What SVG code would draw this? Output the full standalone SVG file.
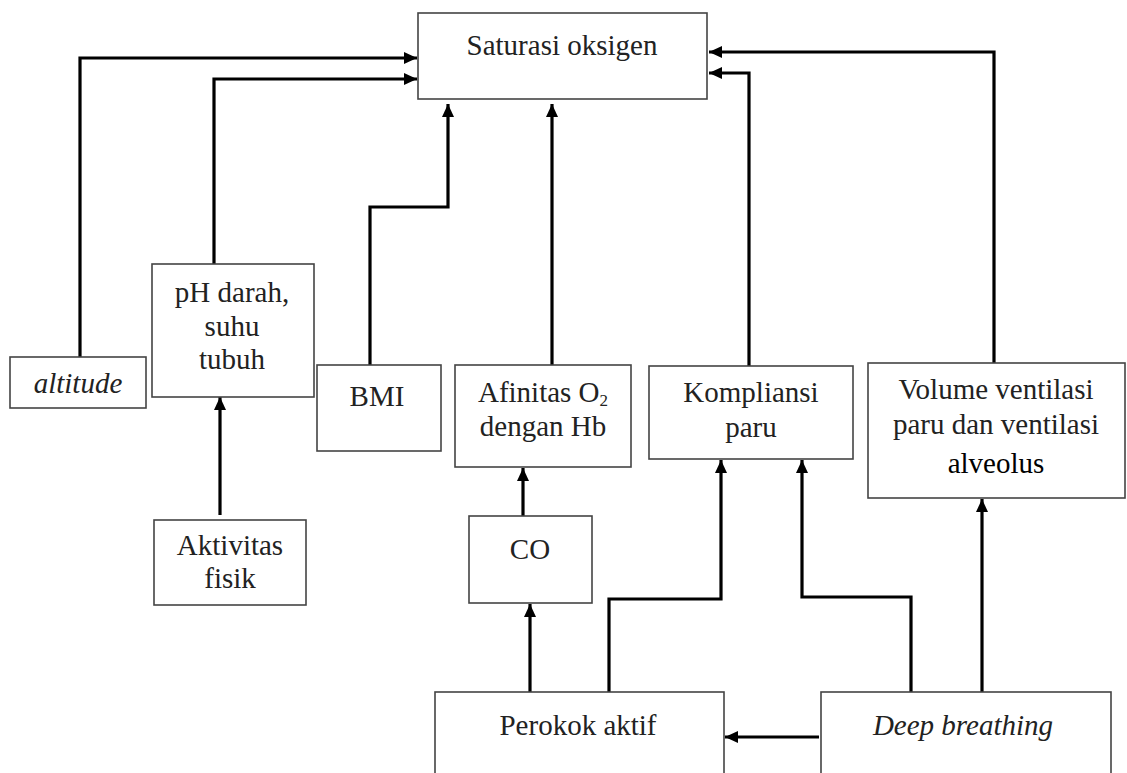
<svg xmlns="http://www.w3.org/2000/svg" width="1127" height="773" viewBox="0 0 1127 773">
<defs>
<style>
.box{fill:#fff;stroke:#444;stroke-width:1.6}
.t{font-size:29px;fill:#222;text-anchor:middle}
.i{font-style:italic}
.c{fill:none;stroke:#000;stroke-width:3.2;marker-end:url(#ah)}
</style>
<marker id="ah" markerUnits="userSpaceOnUse" markerWidth="14" markerHeight="12" refX="13" refY="6" orient="auto">
<path d="M0,0 L13,6 L0,12 z" fill="#000"/>
</marker>
</defs>
<rect width="1127" height="773" fill="#fff"/>
<g id="connectors">
<path class="c" d="M80,358 V58 H417"/>
<path class="c" d="M214,265 V79 H417"/>
<path class="c" d="M370,365 V207 H448 V104"/>
<path class="c" d="M552,365 V104"/>
<path class="c" d="M749,366 V73 H709"/>
<path class="c" d="M994,363 V52 H709"/>
<path class="c" d="M220,515 V397"/>
<path class="c" d="M523,517 V468"/>
<path class="c" d="M530,692 V604"/>
<path class="c" d="M609,692 V599 H721 V460"/>
<path class="c" d="M911,692 V597 H802 V460"/>
<path class="c" d="M982,692 V499"/>
<path class="c" d="M819,737 H725"/>
</g>
<g font-family="Liberation Serif, Times New Roman, serif">
<g id="saturasi">
<rect class="box" x="418" y="13" width="289" height="86"/>
<text class="t" x="562" y="55">Saturasi oksigen</text>
</g>
<g id="altitude">
<rect class="box" x="10" y="357" width="136" height="51"/>
<text class="t i" x="78" y="393">altitude</text>
</g>
<g id="ph">
<rect class="box" x="152" y="264" width="162" height="133"/>
<text class="t" x="232" y="302">pH darah,</text>
<text class="t" x="232" y="336">suhu</text>
<text class="t" x="232" y="369">tubuh</text>
</g>
<g id="bmi">
<rect class="box" x="317" y="365" width="124" height="86"/>
<text class="t" x="377" y="406">BMI</text>
</g>
<g id="afinitas">
<rect class="box" x="455" y="365" width="176" height="102"/>
<text class="t" x="543" y="402">Afinitas O<tspan font-size="17" dy="4">2</tspan></text>
<text class="t" x="543" y="436">dengan Hb</text>
</g>
<g id="kompliansi">
<rect class="box" x="649" y="366" width="204" height="93"/>
<text class="t" x="751" y="402">Kompliansi</text>
<text class="t" x="751" y="437">paru</text>
</g>
<g id="volume">
<rect class="box" x="868" y="363" width="257" height="135"/>
<text class="t" x="996" y="399">Volume ventilasi</text>
<text class="t" x="996" y="434">paru dan ventilasi</text>
<text class="t" x="996" y="473" style="fill:#000">alveolus</text>
</g>
<g id="aktivitas">
<rect class="box" x="154" y="520" width="152" height="85"/>
<text class="t" x="230" y="555">Aktivitas</text>
<text class="t" x="230" y="588">fisik</text>
</g>
<g id="co">
<rect class="box" x="469" y="516" width="123" height="87"/>
<text class="t" x="530" y="559">CO</text>
</g>
<g id="perokok">
<rect class="box" x="435" y="692" width="289" height="90"/>
<text class="t" x="578" y="735">Perokok aktif</text>
</g>
<g id="deep">
<rect class="box" x="821" y="692" width="290" height="90"/>
<text class="t i" x="963" y="735">Deep breathing</text>
</g>
</g>
</svg>
